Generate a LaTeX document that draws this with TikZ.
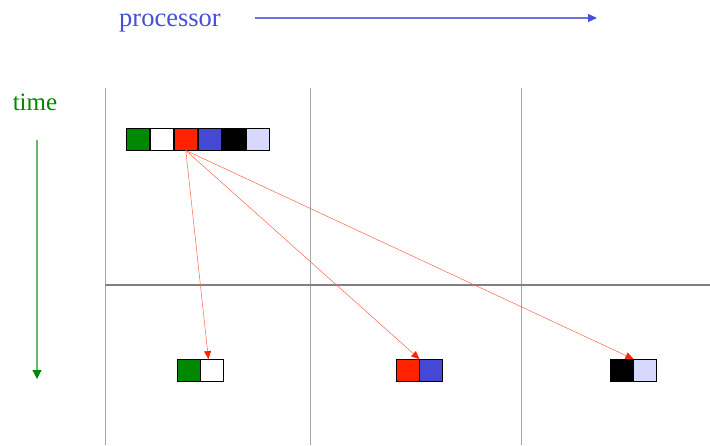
\documentclass[tikz,border=0pt]{standalone}
\usepackage{fontspec}
\setmainfont{Liberation Serif}
\usetikzlibrary{positioning,arrows.meta}
\definecolor{procblue}{RGB}{70,80,215}
\definecolor{boxblue}{RGB}{68,72,210}
\definecolor{timegreen}{RGB}{0,136,0}
\definecolor{msgred}{RGB}{255,34,0}
\definecolor{lavender}{RGB}{216,216,255}
\tikzset{
  cell/.style = {draw=black, line width=0.9pt, minimum width=23pt, minimum height=22pt, inner sep=0pt},
  msg/.style = {-{Triangle[length=8pt,width=7pt,color=msgred]}, draw=msgred!70, line width=0.5pt},
}
\begin{document}
\begin{tikzpicture}[x=1pt, y=-1pt]
			\useasboundingbox (0,0) rectangle (710,445);
			
			\node[text=procblue, font=\fontsize{26.5}{28}\selectfont, anchor=base] (proc) at (170,26) {processor};
			\node[text=timegreen, font=\fontsize{25}{28}\selectfont, anchor=base] (time) at (35,110) {time};
			\coordinate (pa) at (255,18);
			\coordinate (pb) at (597,18);
			\coordinate (ta) at (37,140);
			\coordinate (tb) at (37,379);
			\draw[-{Triangle[length=9pt,width=8pt,color=procblue]}, procblue!80, line width=1.2pt] (pa) -- (pb);
			\draw[-{Triangle[length=9pt,width=9pt,color=timegreen]}, timegreen!60, line width=1.2pt] (ta) -- (tb);
			
			\draw[gray!70, line width=1pt] (105,88) -- (105,445);
			\draw[gray!70, line width=1pt] (310,88) -- (310,445);
			\draw[gray!70, line width=1pt] (521,88) -- (521,445);
			\draw[gray, line width=1.5pt] (105,285) -- (710,285);
			
			\node[cell, fill=timegreen] (t1) at (138,139) {};
			\node[cell, fill=white, right=0pt of t1] (t2) {};
			\node[cell, fill=msgred, right=0pt of t2] (t3) {};
			\node[cell, fill=boxblue, right=0pt of t3] (t4) {};
			\node[cell, fill=black, right=0pt of t4] (t5) {};
			\node[cell, fill=lavender, right=0pt of t5] (t6) {};
			
			\node[cell, fill=timegreen] (b1) at (188.5,370.5) {};
			\node[cell, fill=white, right=0pt of b1] (b2) {};
			\node[cell, fill=msgred] (b3) at (407.5,370.5) {};
			\node[cell, fill=boxblue, right=0pt of b3] (b4) {};
			\node[cell, fill=black] (b5) at (621.5,370.5) {};
			\node[cell, fill=lavender, right=0pt of b5] (b6) {};
			
			\draw[msg] (t3.south) -- ([xshift=8pt]b1.north east);
			\draw[msg] (t3.south) -- (b3.north east);
			\draw[msg] (t3.south) -- (b5.north east);
		\end{tikzpicture}
\end{document}
